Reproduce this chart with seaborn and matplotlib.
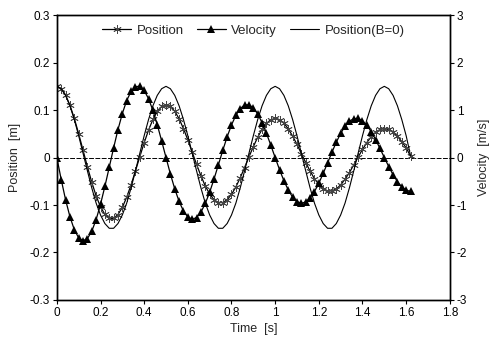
import matplotlib
matplotlib.use("Agg")
import matplotlib.pyplot as plt
import seaborn as sns

# sample times [s]
time = [0.00, 0.02, 0.04, 0.06, 0.08, 0.10, 0.12, 0.14, 0.16, 0.18,
        0.20, 0.22, 0.24, 0.26, 0.28, 0.30, 0.32, 0.34, 0.36, 0.38,
        0.40, 0.42, 0.44, 0.46, 0.48, 0.50, 0.52, 0.54, 0.56, 0.58,
        0.60, 0.62, 0.64, 0.66, 0.68, 0.70, 0.72, 0.74, 0.76, 0.78,
        0.80, 0.82, 0.84, 0.86, 0.88, 0.90, 0.92, 0.94, 0.96, 0.98,
        1.00, 1.02, 1.04, 1.06, 1.08, 1.10, 1.12, 1.14, 1.16, 1.18,
        1.20, 1.22, 1.24, 1.26, 1.28, 1.30, 1.32, 1.34, 1.36, 1.38,
        1.40, 1.42, 1.44, 1.46, 1.48, 1.50, 1.52, 1.54, 1.56, 1.58,
        1.60, 1.62]

# damped position [m]
position = [0.1500, 0.1453, 0.1317, 0.1102, 0.0824, 0.0501, 0.0154, -0.0194, -0.0521, -0.0809,
            -0.1039, -0.1199, -0.1281, -0.1281, -0.1201, -0.1049, -0.0835, -0.0574, -0.0283, 0.0018,
            0.0311, 0.0578, 0.0802, 0.0971, 0.1076, 0.1111, 0.1076, 0.0976, 0.0816, 0.0610,
            0.0371, 0.0114, -0.0144, -0.0386, -0.0599, -0.0770, -0.0888, -0.0949, -0.0949, -0.0890,
            -0.0777, -0.0619, -0.0425, -0.0210, 0.0013, 0.0230, 0.0428, 0.0594, 0.0719, 0.0797,
            0.0823, 0.0797, 0.0723, 0.0605, 0.0452, 0.0275, 0.0085, -0.0106, -0.0286, -0.0444,
            -0.0570, -0.0658, -0.0703, -0.0703, -0.0659, -0.0576, -0.0458, -0.0315, -0.0155, 0.0010,
            0.0171, 0.0317, 0.0440, 0.0533, 0.0591, 0.0610, 0.0591, 0.0535, 0.0448, 0.0335,
            0.0204, 0.0030]

# velocity [m/s]
velocity = [0.000, -0.464, -0.889, -1.247, -1.520, -1.692, -1.754, -1.706, -1.553, -1.306,
            -0.985, -0.609, -0.205, 0.203, 0.588, 0.927, 1.201, 1.394, 1.495, 1.501,
            1.413, 1.240, 0.993, 0.691, 0.352, 0.000, -0.344, -0.659, -0.924, -1.126,
            -1.253, -1.299, -1.264, -1.150, -0.967, -0.730, -0.451, -0.152, 0.150, 0.436,
            0.687, 0.890, 1.033, 1.107, 1.112, 1.047, 0.919, 0.736, 0.512, 0.261,
            0.000, -0.255, -0.488, -0.684, -0.834, -0.929, -0.963, -0.936, -0.852, -0.717,
            -0.541, -0.334, -0.113, 0.111, 0.323, 0.509, 0.659, 0.765, 0.820, 0.824,
            0.775, 0.681, 0.545, 0.379, 0.193, 0.000, -0.189, -0.361, -0.507, -0.618,
            -0.688, -0.713]

# undamped position (B=0) [m]
position_b0 = [0.150, 0.145, 0.131, 0.109, 0.080, 0.046, 0.009, -0.028, -0.064, -0.096,
               -0.121, -0.139, -0.149, -0.149, -0.139, -0.121, -0.096, -0.064, -0.028, 0.009,
               0.046, 0.080, 0.109, 0.131, 0.145, 0.150, 0.145, 0.131, 0.109, 0.080,
               0.046, 0.009, -0.028, -0.064, -0.096, -0.121, -0.139, -0.149, -0.149, -0.139,
               -0.121, -0.096, -0.064, -0.028, 0.009, 0.046, 0.080, 0.109, 0.131, 0.145,
               0.150, 0.145, 0.131, 0.109, 0.080, 0.046, 0.009, -0.028, -0.064, -0.096,
               -0.121, -0.139, -0.149, -0.149, -0.139, -0.121, -0.096, -0.064, -0.028, 0.009,
               0.046, 0.080, 0.109, 0.131, 0.145, 0.150, 0.145, 0.131, 0.109, 0.080,
               0.046, 0.004]

x_ticks = [0, 0.2, 0.4, 0.6, 0.8, 1, 1.2, 1.4, 1.6, 1.8]
x_labels = ["0", "0.2", "0.4", "0.6", "0.8", "1", "1.2", "1.4", "1.6", "1.8"]
pos_ticks = [-0.3, -0.2, -0.1, 0, 0.1, 0.2, 0.3]
pos_labels = ["-0.3", "-0.2", "-0.1", "0", "0.1", "0.2", "0.3"]
vel_ticks = [-3, -2, -1, 0, 1, 2, 3]
vel_labels = ["-3", "-2", "-1", "0", "1", "2", "3"]

sns.set_theme(style="ticks")
plt.rcParams["font.family"] = ["Liberation Sans", "DejaVu Sans"]

fig = plt.figure(figsize=(4.9, 3.44), dpi=100)
ax = fig.add_axes([0.116, 0.128, 0.802, 0.828])
ax2 = ax.twinx()

ax.axhline(0, color="black", lw=0.7, ls=(0, (5, 1.5)), zorder=1)

sns.lineplot(x=time, y=position, ax=ax, color="black", lw=0.9,
             marker=(6, 2, 0), markersize=6, markeredgewidth=0.6,
             markeredgecolor="#444444", label="Position", legend=False)
sns.lineplot(x=time, y=position_b0, ax=ax, color="black", lw=0.8,
             label="Position(B=0)", legend=False)
sns.lineplot(x=time, y=velocity, ax=ax2, color="black", lw=0.9,
             marker="^", markersize=5.5, markeredgewidth=0,
             label="Velocity", legend=False)

ax.set_xlim(0, 1.8)
ax.set_ylim(-0.3, 0.3)
ax2.set_ylim(-3, 3)
ax.set_xticks(x_ticks)
ax.set_xticklabels(x_labels)
ax.set_yticks(pos_ticks)
ax.set_yticklabels(pos_labels)
ax2.set_yticks(vel_ticks)
ax2.set_yticklabels(vel_labels)

for a in (ax, ax2):
    a.tick_params(direction="out", length=3, width=0.8, labelsize=8.5,
                  colors="black", pad=2)
    for s in a.spines.values():
        s.set_color("black")
        s.set_linewidth(1.0)
        s.set_visible(True)

ax.set_xlabel("Time  [s]", fontsize=9, labelpad=3)
ax.set_ylabel("Position  [m]", fontsize=9, labelpad=6)
ax2.set_ylabel("Velocity  [m/s]", fontsize=9, labelpad=8)

h1, l1 = ax.get_legend_handles_labels()
h2, l2 = ax2.get_legend_handles_labels()
handles = [h1[0], h2[0], h1[1]]
labels = [l1[0], l2[0], l1[1]]
ax2.legend(handles, labels, loc="upper center", bbox_to_anchor=(0.5, 1.0),
           ncol=3, frameon=False, fontsize=9.5, handlelength=2.2,
           columnspacing=1.0, handletextpad=0.4, borderaxespad=0.3)

fig.savefig("out.png", dpi=100)
